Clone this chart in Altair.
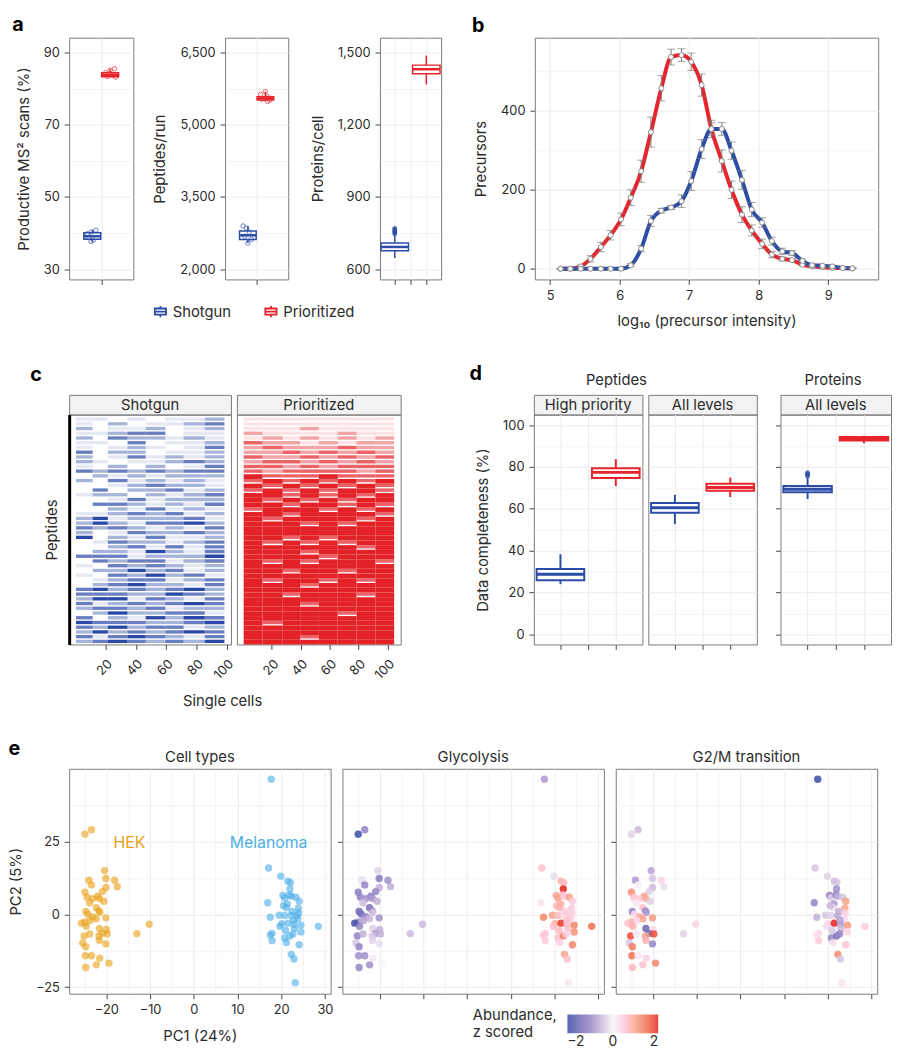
import altair as alt
import pandas as pd

FONT = "Inter"
BLUE = "#2C4DA6"
RED = "#E7242B"
TXT = "#2b2b2b"
GRID = "#EBEBEB"
FRAME = "#7a7a7a"
STRIP = "#F2F2F2"
ORANGE = "#E8A11A"
SKY = "#4FB0E8"

METHODS = ["Shotgun", "Prioritized"]
DODGE = [-1, 1]

# ---------------- panel a ----------------
A1_BOX = [[37.7, 38.3, 39.1, 40.1, 40.8], [83.2, 83.3, 83.8, 84.4, 85.5]]
A1_PTS = [[40.8, 40.3, 39.8, 38.8, 38.0, 37.7], [85.5, 85.1, 84.4, 83.8, 83.35, 83.2]]
A1_JIT = [[0.4, -0.1, -0.55, -0.4, 0.1, -0.15], [0.5, 0.0, -0.5, 0.3, -0.3, 0.6]]
A2_BOX = [[2543, 2614, 2703, 2794, 2897], [5485, 5516, 5549, 5582, 5691]]
A2_PTS = [[2897, 2853, 2770, 2685, 2620, 2543], [5691, 5633, 5582, 5530, 5485, 5510]]
A2_JIT = [[-0.55, -0.15, 0.15, -0.35, 0.4, 0.0], [0.0, -0.55, 0.3, -0.4, 0.25, 0.5]]
A3_BOX = [[646, 676, 692, 708, 741], [1368, 1412, 1431, 1448, 1488]]
A3_OUT_SHOTGUN = [746, 751, 756, 761, 765, 769]

# ---------------- panel b ----------------
B_X = [5.15, 5.29, 5.44, 5.58, 5.73, 5.87, 6.02, 6.16, 6.31, 6.45, 6.60, 6.74,
       6.89, 7.03, 7.18, 7.32, 7.47, 7.61, 7.76, 7.90, 8.05, 8.19, 8.34, 8.48,
       8.63, 8.77, 8.92, 9.06, 9.21, 9.35]
B_PRIOR = [0, 0, 6, 25, 55, 85, 125, 180, 247, 346, 457, 536, 541, 524, 465, 354,
           273, 200, 137, 97, 63, 36, 25, 22, 10, 6, 4, 2, 2, 1]
B_PRIOR_SD = [0, 0, 3, 8, 12, 12, 16, 20, 28, 38, 32, 20, 16, 22, 28, 22, 28, 22,
              20, 14, 12, 8, 5, 4, 3, 2, 2, 1, 1, 1]
B_SHOTGUN = [0, 0, 0, 0, 0, 0, 0, 9, 51, 121, 147, 155, 171, 222, 303, 354, 354,
             299, 225, 150, 117, 70, 44, 40, 20, 9, 8, 6, 2, 1]
B_SHOTGUN_SD = [0, 0, 0, 0, 0, 0, 0, 4, 8, 14, 6, 5, 16, 24, 24, 16, 16, 22, 24,
                18, 12, 10, 8, 6, 5, 3, 2, 2, 1, 1]

# ---------------- panel c (peptide-band x cell-block detection level 0-4) ----------------
C_SHOTGUN_BLOCKS = [0.5, 11.5, 21.5, 34.5, 46.5, 59.5, 71.5, 85.5, 98.5]
C_PRIOR_BLOCKS = [0.5, 13.5, 27.5, 39.5, 52.5, 65.5, 78.5, 91.5, 104.5]
C_SHOTGUN = [
    "11010112", "10201123", "20112012", "11233011", "20322121", "11030112",
    "10121013", "30220112", "20131212", "21011232", "10202013", "32323233",
    "02121222", "20312121", "00123221", "03022312", "12202123", "00131222",
    "03321213", "00213121", "11232312", "24122231", "24213342", "32321213",
    "20132232", "40213112", "01322123", "00231313", "02214213", "33312224",
    "03233123", "10323212", "02242312", "10324231", "01233123", "02342213",
    "34232342", "33322432", "24413213", "31232343", "23323122", "02422331",
    "30214243", "43332234", "32423312", "24232343", "31343213", "23432324",
]
C_PRIOR = [
    "11111111", "11111111", "11121111", "21111211", "12121212", "32212122",
    "23222322", "22323232", "32232323", "23323232", "33232333", "32333323",
    "43334333", "34343434", "43434343", "34343443", "44343434", "43434344",
    "44344343", "34443434", "44344443", "43444434", "44434344", "44444444",
    "44444444", "44343444", "43434344", "44444434", "44434444", "44443444",
    "43434443", "44444444", "44344344", "44444444", "43443434", "44434444",
    "44444444", "44344434", "44444444", "44434444", "44444444", "44444344",
    "44444444", "43444444", "44444444", "44444444", "44434444", "44444444",
]

# ---------------- panel d ----------------
D_FACETS = ["High priority", "All levels", "All levels"]
D_GROUPS = ["Peptides", "Proteins"]
D1_BOX = [[24.0, 25.9, 28.7, 31.3, 38.3], [70.9, 74.7, 77.4, 79.4, 83.7]]
D2_BOX = [[52.7, 58.1, 60.5, 62.8, 66.7], [65.6, 68.6, 70.2, 72.0, 74.9]]
D3_BOX = [[64.7, 67.9, 69.3, 70.9, 74.9], [91.3, 92.6, 93.4, 94.3, 94.9]]
D3_OUT_SHOTGUN = [75.6, 76.2, 76.7, 77.2]

# ---------------- panel e ----------------
HEK_PC1 = [-24.9, -23.4, -20.4, -24.0, -20.1, -18.1, -23.4, -20.1, -17.5, -24.9, -20.9, -22.0,
           -24.4, -23.1, -21.6, -20.6, -23.8, -22.3, -21.7, -24.7, -24.2, -21.5, -23.1, -24.9,
           -22.3, -20.1, -25.7, -23.7, -24.6, -21.6, -20.0, -20.9, -25.1, -23.8, -21.7, -19.8,
           -25.4, -21.6, -20.1, -24.7, -24.8, -23.4, -21.5, -19.4, -22.3, -24.7, -13.0, -10.2]
HEK_PC2 = [27.5, 29.0, 15.0, 11.7, 12.3, 11.7, 10.1, 9.2, 9.5, 7.6, 7.8, 6.2,
           5.9, 5.4, 5.4, 4.5, 4.0, 2.3, 1.2, 1.0, 0.1, 0.7, -0.8, -2.6,
           -1.5, -1.2, -3.0, -2.1, -4.1, -4.8, -5.2, -6.5, -7.4, -6.7, -7.4, -6.7,
           -9.8, -8.9, -10.1, -11.1, -14.2, -14.2, -15.0, -16.7, -17.3, -18.2, -6.6, -3.4]
HEK_GLY = [-2.0, -1.0, -0.3, -0.2, -1.2, -0.9, -1.0, -0.6, -0.6, -1.1, -1.0, -1.1,
           -1.0, -0.9, -0.8, -0.6, -0.5, -1.3, -1.0, -1.5, -1.4, -0.4, -1.0, -0.9,
           -0.5, -0.9, -2.1, -0.7, -1.0, -0.3, -0.6, -0.8, -1.0, -0.6, -0.4, -0.6,
           -0.4, -0.3, -0.2, -1.0, -0.9, -0.9, -0.1, 0.0, -0.9, -1.0, -0.5, -0.5]
HEK_G2M = [-0.3, -0.5, -0.7, -0.8, -0.4, 0.4, 0.1, -0.5, -0.2, 1.2, -0.3, 1.0,
           0.6, 0.5, 0.9, -0.3, 0.2, 0.6, -0.9, -1.0, 0.3, -0.8, 0.9, 0.9,
           1.0, 1.1, 0.6, 0.4, 0.8, -1.5, 0.3, -1.4, 1.8, -0.1, 1.0, 1.8,
           -0.4, 0.8, -1.0, 1.4, 1.5, 0.2, 0.4, 1.3, 0.6, 0.7, -0.3, 0.4]
MEL_PC1 = [17.7, 17.1, 19.9, 21.5, 22.1, 22.0, 20.4, 20.8, 21.9, 22.3, 23.4, 21.4,
           24.1, 16.9, 23.9, 21.2, 17.5, 19.5, 20.8, 22.3, 23.6, 20.1, 21.5, 22.9,
           24.5, 28.5, 19.7, 23.0, 24.5, 17.5, 17.9, 20.8, 22.0, 22.7, 17.9, 21.2,
           24.1, 22.3, 22.9, 23.2, 22.5, 21.0, 23.8, 20.5, 22.8, 24.0]
MEL_PC2 = [46.3, 15.9, 13.1, 11.4, 10.9, 8.7, 6.5, 5.6, 6.7, 6.2, 5.9, 3.6,
           4.5, 4.0, 2.1, 2.3, -1.0, -0.3, -0.4, -0.4, -0.3, -3.2, -3.0, -3.4,
           -3.7, -4.1, -4.1, -4.8, -6.0, -7.1, -6.5, -8.1, -7.4, -6.7, -9.0, -9.6,
           -10.4, -13.7, -15.3, -23.4, 1.0, -5.5, -1.5, 3.0, -2.0, 0.5]
MEL_GLY = [-0.8, 0.6, -0.2, 0.8, 0.7, 2.0, 0.9, 1.0, 0.7, 0.5, 1.0, 0.9,
           0.5, 0.2, 0.5, 0.8, 1.3, 1.0, 0.7, 0.3, 0.5, 0.9, 1.9, 0.6,
           1.3, 1.5, 0.6, 0.6, 1.2, 0.6, 0.5, 0.6, 1.3, 0.4, 0.5, 0.4,
           1.3, 1.0, 0.6, 0.2, 0.5, 0.7, 0.4, 0.8, 0.6, 0.4]
MEL_G2M = [-2.2, -0.4, -0.3, -0.5, -0.4, -0.9, -1.0, -0.3, -1.2, -0.6, -0.4, -0.8,
           1.0, -1.0, 1.0, -0.2, -0.6, -0.4, -0.3, -0.7, -0.2, 0.4, 2.0, -0.8,
           1.1, 0.5, 0.3, -0.5, 0.4, 0.2, 0.3, -1.0, -1.3, -1.0, 0.5, 0.3,
           0.6, 1.3, -0.4, 0.2, -0.6, -0.4, 0.3, -0.5, -0.7, 0.4]
E_LABELS = ["HEK", "Melanoma"]
E_LABEL_PC1 = [-14.7, 17.1]
E_LABEL_PC2 = [24.6, 24.6]
E_TITLES = ["Cell types", "Glycolysis", "G2/M transition"]

# ---------------- shared encodings ----------------
STROKE_SCALE = alt.Scale(domain=METHODS, range=[BLUE, RED])
BOX_GLYPH = "M-1,-0.55H1V0.55H-1Z M-1,0H1 M0,-0.55V-1 M0,0.55V1"
LEG = alt.Legend(title=None, orient="none", legendX=85, legendY=270, direction="horizontal",
                 symbolType=BOX_GLYPH, symbolSize=130, symbolStrokeWidth=1.8,
                 symbolFillColor="white", labelFontSize=15, labelColor=TXT,
                 columnPadding=30, labelOffset=5)
STROKE = alt.Stroke("method:N", scale=STROKE_SCALE, legend=LEG)


def letter(t, dx, dy=0, offset=2):
    return alt.TitleParams(t, anchor="start", frame="bounds", fontSize=20, fontWeight="bold",
                           color="black", dy=dy, dx=dx, offset=offset)


def axis_mm(major, minor, title=None, fmt=None, labels=True, ticks=True, **extra):
    allv = sorted(major + minor)
    test = "indexof(%s, datum.value) >= 0" % str(major)
    kw = dict(values=allv, grid=True,
              gridWidth={"condition": {"test": test, "value": 1}, "value": 0.6})
    if ticks:
        kw["tickOpacity"] = {"condition": {"test": test, "value": 1}, "value": 0}
    else:
        kw["ticks"] = False
    kw["title"] = title
    if fmt is not None:
        kw["format"] = fmt
    if labels:
        kw["labelExpr"] = "%s ? datum.label : ''" % test
    else:
        kw["labels"] = False
    kw.update(extra)
    return alt.Axis(**kw)


def box_panel(stats, hw, xdom, xticks, ydom, yaxis, width, height, pts=None, jit=None,
              outl=None, box_sw=1.5, med_sw=2.5):
    df = pd.DataFrame({"method": METHODS, "pos": DODGE,
                       "lo": [s[0] for s in stats], "q1": [s[1] for s in stats],
                       "med": [s[2] for s in stats], "q3": [s[3] for s in stats],
                       "hi": [s[4] for s in stats]})
    xs = alt.Scale(domain=xdom, nice=False, zero=False)
    ys = alt.Scale(domain=ydom, nice=False, zero=False)
    xa = alt.Axis(values=xticks, labels=False, title=None, grid=True)
    base = alt.Chart(df).transform_calculate(x0="datum.pos - %f" % hw, x1="datum.pos + %f" % hw)
    whisk = base.mark_rule(strokeWidth=box_sw).encode(
        x=alt.X("pos:Q", scale=xs, axis=xa), y=alt.Y("lo:Q", scale=ys, axis=yaxis),
        y2="hi:Q", stroke=STROKE)
    box = base.mark_bar(fill="white", strokeWidth=box_sw).encode(
        x=alt.X("x0:Q", scale=xs, axis=xa), x2="x1:Q",
        y=alt.Y("q1:Q", scale=ys, axis=yaxis), y2="q3:Q", stroke=STROKE)
    med = base.mark_rule(strokeWidth=med_sw).encode(
        x=alt.X("x0:Q", scale=xs, axis=xa), x2="x1:Q",
        y=alt.Y("med:Q", scale=ys, axis=yaxis), stroke=STROKE)
    layers = [whisk, box, med]
    if pts is not None:
        recs = []
        for m, p, vals, js in zip(METHODS, DODGE, pts, jit):
            for v, j in zip(vals, js):
                recs.append({"method": m, "pos": p, "val": v, "jit": j})
        pdf = pd.DataFrame(recs)
        pt = alt.Chart(pdf).transform_calculate(px="datum.pos + datum.jit").mark_point(
            shape="circle", filled=False, size=20, strokeWidth=1).encode(
            x=alt.X("px:Q", scale=xs, axis=xa), y=alt.Y("val:Q", scale=ys, axis=yaxis),
            stroke=STROKE)
        layers.append(pt)
    if outl is not None:
        odf = pd.DataFrame({"method": [METHODS[0]] * len(outl), "pos": [DODGE[0]] * len(outl),
                            "val": outl})
        op = alt.Chart(odf).mark_point(shape="circle", filled=False, size=6, strokeWidth=2.5).encode(
            x=alt.X("pos:Q", scale=xs, axis=xa), y=alt.Y("val:Q", scale=ys, axis=yaxis),
            stroke=STROKE)
        layers.append(op)
    return alt.layer(*layers).properties(width=width, height=height)


# ---------------- panel a ----------------
A_H = 245
a1 = box_panel(A1_BOX, 0.95, [-3.6, 3.6], [0], [27.15, 94.1],
               axis_mm([30, 50, 70, 90], [40, 60, 80], "Productive MS² scans (%)"),
               65, A_H, pts=A1_PTS, jit=A1_JIT)
a2 = box_panel(A2_BOX, 0.95, [-3.6, 3.6], [0], [1786, 6810],
               axis_mm([2000, 3500, 5000, 6500], [2750, 4250, 5750], "Peptides/run", fmt=",d"),
               64, A_H, pts=A2_PTS, jit=A2_JIT)
a3 = box_panel(A3_BOX, 0.87, [-1.94, 1.94], [-1, 0, 1], [557, 1562],
               axis_mm([600, 900, 1200, 1500], [750, 1050, 1350], "Proteins/cell", fmt=",d"),
               62, A_H, outl=A3_OUT_SHOTGUN)
a_block = alt.hconcat(a1, a2, a3, spacing=93, bounds="flush",
                      title=letter("a", dx=-4, offset=-4, dy=-6))

# ---------------- panel b ----------------
b_df = pd.DataFrame({
    "x": B_X + B_X,
    "y": B_PRIOR + B_SHOTGUN,
    "sd": B_PRIOR_SD + B_SHOTGUN_SD,
    "method": [METHODS[1]] * len(B_X) + [METHODS[0]] * len(B_X),
})
bxs = alt.Scale(domain=[4.78, 9.72], nice=False, zero=False)
bys = alt.Scale(domain=[-27, 585], nice=False, zero=False)
bxa = axis_mm([5, 6, 7, 8, 9], [5.5, 6.5, 7.5, 8.5, 9.5], "log₁₀ (precursor intensity)", fmt="d")
bya = axis_mm([0, 200, 400], [100, 300, 500], "Precursors")
bbase = alt.Chart(b_df).transform_calculate(lo="datum.y - datum.sd", hi="datum.y + datum.sd")
b_line = bbase.mark_line(strokeWidth=4, interpolate="monotone").encode(
    x=alt.X("x:Q", scale=bxs, axis=bxa), y=alt.Y("y:Q", scale=bys, axis=bya), stroke=STROKE,
    order="x:Q")
b_err = bbase.mark_rule(color="#7d7d7d", strokeWidth=1).encode(
    x=alt.X("x:Q", scale=bxs, axis=bxa), y=alt.Y("lo:Q", scale=bys, axis=bya), y2="hi:Q")
b_cap_lo = bbase.mark_tick(color="#7d7d7d", orient="horizontal", size=8, thickness=1).encode(
    x=alt.X("x:Q", scale=bxs, axis=bxa), y=alt.Y("lo:Q", scale=bys, axis=bya))
b_cap_hi = bbase.mark_tick(color="#7d7d7d", orient="horizontal", size=8, thickness=1).encode(
    x=alt.X("x:Q", scale=bxs, axis=bxa), y=alt.Y("hi:Q", scale=bys, axis=bya))
b_pts = bbase.mark_circle(color="white", stroke="#8a8a8a", strokeWidth=1, size=26, opacity=1).encode(
    x=alt.X("x:Q", scale=bxs, axis=bxa), y=alt.Y("y:Q", scale=bys, axis=bya))
b_chart = alt.layer(b_line, b_err, b_cap_lo, b_cap_hi, b_pts).properties(
    width=348, height=A_H, title=letter("b", dx=-2, offset=-4, dy=-6))

row1 = alt.hconcat(a_block, b_chart, spacing=29)

# ---------------- panel c ----------------
PLOT_H2 = 233


def heat_df(rows, edges, fill_lo, fill_hi):
    recs = []
    for i, r in enumerate(rows):
        for j, ch in enumerate(r):
            lv = int(ch)
            if lv:
                recs.append({"x0": edges[j], "x1": edges[j + 1], "r0": i,
                             "r1": i + (fill_hi if lv == 4 else fill_lo), "lv": lv})
    return pd.DataFrame(recs)


def strip(label, width):
    return alt.Chart(pd.DataFrame({"label": [label]})).mark_text(
        fontSize=15, color=TXT, baseline="middle").encode(text="label:N").properties(
        width=width, height=20, view=alt.ViewBackground(fill=STRIP, stroke=FRAME))


OPAC = alt.Opacity("lv:Q", scale=alt.Scale(domain=[1, 4], range=[0.12, 1.0]), legend=None)


def heat(rows, edges, color, xdom, width, first, fill_lo, fill_hi):
    ys = alt.Scale(domain=[-0.6, len(rows)], reverse=True, nice=False, zero=False)
    if first:
        ya = alt.Axis(title="Peptides", labels=False, ticks=False, grid=False, domain=True,
                      domainColor="black", domainWidth=3, titlePadding=10)
    else:
        ya = None
    xa = alt.Axis(values=[20, 40, 60, 80, 100], labelAngle=-45, grid=False, title=None,
                  labelPadding=8)
    return alt.Chart(heat_df(rows, edges, fill_lo, fill_hi)).mark_rect(
        color=color, strokeWidth=0).encode(
        x=alt.X("x0:Q", scale=alt.Scale(domain=xdom, nice=False, zero=False), axis=xa),
        x2="x1:Q",
        y=alt.Y("r0:Q", scale=ys, axis=ya), y2="r1:Q",
        opacity=OPAC).properties(width=width, height=PLOT_H2)


c_col1 = alt.vconcat(strip(METHODS[0], 164),
                     heat(C_SHOTGUN, C_SHOTGUN_BLOCKS, "#2A48A6", [-4.0, 102.8], 164, True,
                          0.7, 0.7),
                     spacing=0, bounds="flush")
c_col2 = alt.vconcat(strip(METHODS[1], 166),
                     heat(C_PRIOR, C_PRIOR_BLOCKS, "#E32228", [-4.2, 109.0], 166, False,
                          0.72, 1.0),
                     spacing=0, bounds="flush")
c_inner = alt.hconcat(c_col1, c_col2, spacing=-2,
                      title=alt.TitleParams("Single cells", orient="bottom", anchor="middle",
                                            fontSize=15, offset=12))
c_block = alt.vconcat(c_inner, title=letter("c", dx=-14, offset=10))

# ---------------- panel d ----------------
DY = [-4.8, 105]
DMAJ, DMIN = [0, 20, 40, 60, 80, 100], [10, 30, 50, 70, 90]
d1 = box_panel(D1_BOX, 0.86, [-1.96, 1.96], [-1, 0, 1], DY,
               axis_mm(DMAJ, DMIN, "Data completeness (%)"), 110, PLOT_H2, box_sw=2, med_sw=3)
d2 = box_panel(D2_BOX, 0.86, [-1.96, 1.96], [-1, 0, 1], DY,
               axis_mm(DMAJ, DMIN, None, labels=False, ticks=False), 110, PLOT_H2,
               box_sw=2, med_sw=3)
d3 = box_panel(D3_BOX, 0.86, [-1.96, 1.96], [-1, 0, 1], DY,
               axis_mm(DMAJ, DMIN, None, labels=False), 112, PLOT_H2,
               outl=D3_OUT_SHOTGUN, box_sw=2, med_sw=3)
d_pep = alt.hconcat(alt.vconcat(strip(D_FACETS[0], 110), d1, spacing=0, bounds="flush"),
                    alt.vconcat(strip(D_FACETS[1], 110), d2, spacing=0, bounds="flush"),
                    spacing=4,
                    title=alt.TitleParams(D_GROUPS[0], fontSize=15, offset=6, anchor="middle"))
d_prot = alt.vconcat(strip(D_FACETS[2], 112), d3, spacing=0, bounds="flush",
                     title=alt.TitleParams(D_GROUPS[1], fontSize=15, offset=6, anchor="middle"))
d_block = alt.hconcat(d_pep, d_prot, spacing=17, title=letter("d", dx=-6, dy=12))

row2 = alt.hconcat(c_block, d_block, spacing=68)

# ---------------- panel e ----------------
e_df = pd.DataFrame({
    "pc1": HEK_PC1 + MEL_PC1,
    "pc2": HEK_PC2 + MEL_PC2,
    "type": [E_LABELS[0]] * len(HEK_PC1) + [E_LABELS[1]] * len(MEL_PC1),
    "gly": HEK_GLY + MEL_GLY,
    "g2m": HEK_G2M + MEL_G2M,
})
lab_df = pd.DataFrame({"type": E_LABELS, "pc1": E_LABEL_PC1, "pc2": E_LABEL_PC2})
EXS = alt.Scale(domain=[-28.5, 31.3], nice=False, zero=False)
EYS = alt.Scale(domain=[-27.2, 49.9], nice=False, zero=False)
EXM, EXm = [-20, -10, 0, 10, 20, 30], [-25, -15, -5, 5, 15, 25]
EYM, EYm = [-25, 0, 25], [-12.5, 12.5, 37.5]
TYPE_FILL = alt.Fill("type:N", scale=alt.Scale(domain=E_LABELS, range=[ORANGE, SKY]), legend=None)
ZSCALE = alt.Scale(domain=[-2, -1, 0, 1, 2],
                   range=["#3B4BA6", "#9585C6", "#F8F5F9", "#F6A48C", "#E8201E"], clamp=True)
ZLEG = alt.Legend(orient="none", legendX=409, legendY=990, direction="horizontal",
                  gradientLength=92, gradientThickness=19, title=["Abundance,", "z scored"],
                  titleOrient="left", titleFontSize=15, titleFontWeight="normal",
                  titleColor=TXT, values=[-2, 0, 2], labelFontSize=14,
                  labelColor=TXT, gradientStrokeWidth=0, titlePadding=10)
PT_SIZE = 56


def e_panel(kind, title):
    first = kind == "type"
    xa = axis_mm(EXM, EXm, "PC1 (24%)" if first else None, labels=first)
    ya = axis_mm(EYM, EYm, "PC2 (5%)" if first else None, labels=first)
    base = alt.Chart(e_df)
    if first:
        pts = base.mark_circle(size=PT_SIZE, opacity=0.62).encode(
            x=alt.X("pc1:Q", scale=EXS, axis=xa), y=alt.Y("pc2:Q", scale=EYS, axis=ya),
            fill=TYPE_FILL)
        txt = alt.Chart(lab_df).mark_text(fontSize=16).encode(
            x=alt.X("pc1:Q", scale=EXS, axis=xa), y=alt.Y("pc2:Q", scale=EYS, axis=ya),
            text="type:N", fill=TYPE_FILL)
        ch = alt.layer(pts, txt)
    else:
        ch = base.mark_circle(size=PT_SIZE, opacity=0.85).encode(
            x=alt.X("pc1:Q", scale=EXS, axis=xa), y=alt.Y("pc2:Q", scale=EYS, axis=ya),
            color=alt.Color(kind + ":Q", scale=ZSCALE, legend=ZLEG))
    return ch.properties(width=265, height=228,
                         title=alt.TitleParams(title, fontSize=15, offset=4))


e1 = e_panel("type", E_TITLES[0])
e2 = e_panel("gly", E_TITLES[1])
e3 = e_panel("g2m", E_TITLES[2])
row3 = alt.hconcat(e1, e2, e3, spacing=12, bounds="flush",
                   title=letter("e", dx=0, dy=12))

top = alt.vconcat(row1, row2, spacing=34)
chart = alt.vconcat(top, row3, spacing=30).properties(padding=0).configure(
    font=FONT
).configure_view(stroke=FRAME, strokeWidth=1).configure_axis(
    domain=False, tickColor="#444", tickSize=5, labelFont=FONT, labelFontSize=13,
    labelColor=TXT, titleFont=FONT, titleFontSize=15, titleFontWeight="normal",
    titleColor=TXT, gridColor=GRID, labelPadding=5, titlePadding=12
).configure_title(font=FONT, fontSize=15, fontWeight="normal", color=TXT).configure_legend(
    labelFont=FONT, titleFont=FONT)

chart.save("out.html", embed_options={"renderer": "svg", "actions": False})
